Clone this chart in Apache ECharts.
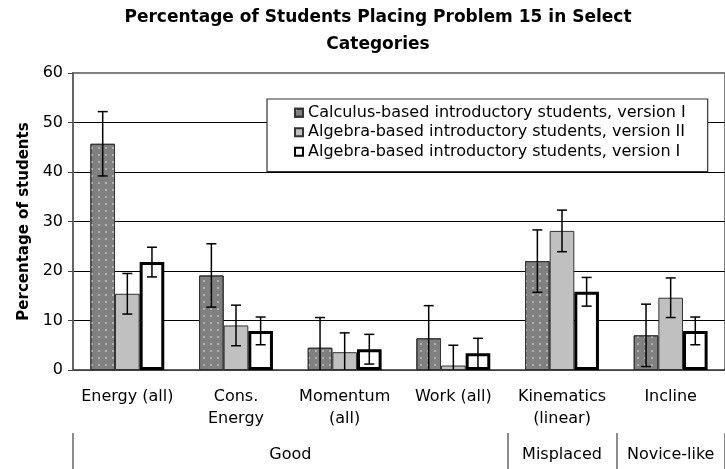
<!DOCTYPE html>
<html>
<head>
<meta charset="utf-8">
<script src="https://cdn.jsdelivr.net/npm/echarts@6/dist/echarts.min.js"></script>
<style>
  html, body { margin: 0; padding: 0; background: #fff; }
  #chart { width: 725px; height: 469px; }
</style>
</head>
<body>
<div id="chart"></div>
<script>
// categories
var categories = ['Energy (all)', 'Cons.\nEnergy', 'Momentum\n(all)', 'Work (all)', 'Kinematics\n(linear)', 'Incline'];
// group labels under the categories (how many categories each one spans)
var groupNames = ['Good', 'Misplaced', 'Novice-like'];
var groupSpans = [4, 1, 1];

var seriesNames = [
    'Calculus-based introductory students, version I',
    'Algebra-based introductory students, version II',
    'Algebra-based introductory students, version I'
];
// percentages
var calcV1 = [45.7, 19.1, 4.5, 6.4, 22.0, 7.0];
var algV2 = [15.4, 9.0, 3.6, 0.9, 28.1, 14.6];
var algV1 = [21.8, 7.9, 4.2, 3.4, 15.8, 7.9];
// error bar half-lengths
var calcV1Err = [6.5, 6.4, 6.1, 6.6, 6.3, 6.3];
var algV2Err = [4.1, 4.1, 3.9, 4.1, 4.2, 4.0];
var algV1Err = [3.0, 2.8, 3.0, 3.0, 2.9, 2.8];

var yTicks = [0, 10, 20, 30, 40, 50, 60];

var FONT = 'DejaVu Sans';
var GAP = 0.32;

//group boundaries and centres on a 0..6 scale
var groupBounds = [0];
var groupCenters = [];
groupSpans.forEach(function(s, i){
    var start = groupBounds[i];
    groupBounds.push(start + s);
    groupCenters.push(start + s / 2);
});

function barSeries(name, data, style){
    return {
        'name': name,
        'type': 'bar',
        'data': data,
        'barGap': 0,
        'barCategoryGap': (GAP * 100) + '%',
        'itemStyle': style,
        'z': 2
    };
}

//error bars, drawn with the axis scale
function errSeries(vals, errs, k){
    var data = vals.map(function(v, i){ return [i, v, errs[i]]; });
    return {
        'type': 'custom',
        'data': data,
        'clip': true,
        'z': 3,
        'silent': true,
        'renderItem': function(params, api){
            var idx = api.value(0);
            var val = api.value(1);
            var err = api.value(2);
            var band = api.size([1, 0])[0];
            var bw = band * (1 - GAP) / 3;
            var x = api.coord([idx, val])[0] + (k - 1) * bw;
            var yTop = api.coord([idx, val + err])[1];
            var yBot = api.coord([idx, val - err])[1];
            var cap = 5;
            var st = {'stroke': '#000', 'lineWidth': 1.5};
            return {
                'type': 'group',
                'children': [
                    {'type': 'line', 'shape': {'x1': x, 'y1': yTop, 'x2': x, 'y2': yBot}, 'style': st},
                    {'type': 'line', 'shape': {'x1': x - cap, 'y1': yTop, 'x2': x + cap, 'y2': yTop}, 'style': st},
                    {'type': 'line', 'shape': {'x1': x - cap, 'y1': yBot, 'x2': x + cap, 'y2': yBot}, 'style': st}
                ]
            };
        }
    };
}

var chart = echarts.init(document.getElementById('chart'), null, {'renderer': 'canvas'});

chart.setOption({
    'animation': false,
    'backgroundColor': '#fff',
    'title': {
        'text': 'Percentage of Students Placing Problem 15 in Select\nCategories',
        'left': 378,
        'top': 4,
        'padding': 0,
        'textAlign': 'center',
        'textStyle': {'fontFamily': FONT, 'fontWeight': 'bold', 'fontSize': 17, 'lineHeight': 27, 'color': '#000'}
    },
    'legend': {
        'orient': 'vertical',
        'left': 267,
        'top': 99,
        'padding': [4, 22, 10, 27],
        'itemGap': 0,
        'itemWidth': 8,
        'itemHeight': 8,
        'icon': 'rect',
        'backgroundColor': '#fff',
        'borderColor': '#333',
        'borderWidth': 1.2,
        'textStyle': {'fontFamily': FONT, 'fontSize': 16, 'lineHeight': 19.5, 'color': '#000'},
        'data': seriesNames
    },
    'grid': {
        'left': 73,
        'top': 73,
        'width': 663,
        'height': 297,
        'show': true,
        'borderColor': '#808080',
        'borderWidth': 2
    },
    'xAxis': [{
        'type': 'category',
        'data': categories,
        'axisLine': {'lineStyle': {'color': '#555', 'width': 1.5}},
        'axisTick': {'length': 63, 'lineStyle': {'color': '#222', 'width': 1}},
        'axisLabel': {'fontFamily': FONT, 'fontSize': 16, 'lineHeight': 22, 'color': '#000', 'margin': 16, 'interval': 0}
    }, {
        'type': 'value',
        'min': 0,
        'max': 6,
        'position': 'bottom',
        'offset': 63,
        'axisLine': {'show': false},
        'splitLine': {'show': false},
        'axisTick': {'show': true, 'length': 36, 'customValues': groupBounds, 'lineStyle': {'color': '#666', 'width': 1.5}},
        'axisLabel': {
            'customValues': groupCenters,
            'fontFamily': FONT, 'fontSize': 16, 'lineHeight': 22, 'color': '#000', 'margin': 11,
            'formatter': function(v){
                var i = groupCenters.indexOf(v);
                return i >= 0 ? groupNames[i] : '';
            }
        }
    }],
    'yAxis': {
        'type': 'value',
        'min': yTicks[0],
        'max': yTicks[yTicks.length - 1],
        'interval': yTicks[1] - yTicks[0],
        'name': 'Percentage of students',
        'nameLocation': 'middle',
        'nameRotate': 90,
        'nameGap': 37,
        'nameTextStyle': {'fontFamily': FONT, 'fontWeight': 'bold', 'fontSize': 15, 'color': '#000'},
        'axisLine': {'show': true, 'lineStyle': {'color': '#666', 'width': 2}},
        'axisTick': {'show': true, 'length': 5, 'lineStyle': {'color': '#444'}},
        'axisLabel': {'fontFamily': FONT, 'fontSize': 16, 'color': '#000', 'margin': 10},
        'splitLine': {'lineStyle': {'color': ['#000', '#000', '#000', '#000', '#000', '#000', '#808080'], 'width': 1}}
    },
    'series': [
        barSeries(seriesNames[0], calcV1, {
            'color': '#808080', 'borderColor': '#333', 'borderWidth': 1,
            'decal': {'symbol': 'rect', 'symbolSize': 1, 'color': '#b0b0b0', 'dashArrayX': [1.5, 4.5], 'dashArrayY': [1.5, 5], 'rotation': 0}
        }),
        barSeries(seriesNames[1], algV2, {'color': '#c0c0c0', 'borderColor': '#333', 'borderWidth': 1}),
        barSeries(seriesNames[2], algV1, {'color': '#fff', 'borderColor': '#000', 'borderWidth': 3}),
        errSeries(calcV1, calcV1Err, 0),
        errSeries(algV2, algV2Err, 1),
        errSeries(algV1, algV1Err, 2)
    ]
});
</script>
</body>
</html>
